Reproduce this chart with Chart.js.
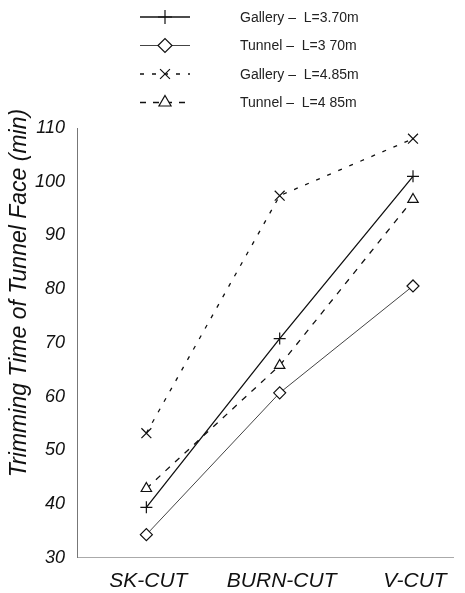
<!DOCTYPE html>
<html>
<head>
<meta charset="utf-8">
<script src="https://cdn.jsdelivr.net/npm/chart.js@4"></script>
<style>
  html, body { margin: 0; padding: 0; background: #fff; }
  #wrap { width: 465px; height: 593px; }
</style>
</head>
<body>
<div id="wrap"><canvas id="trimChart"></canvas></div>
<script>
const categories = ['SK-CUT', 'BURN-CUT', 'V-CUT'];
const gallery370 = [39.4, 70.8, 101];
const tunnel370 = [34.3, 60.7, 80.6];
const gallery485 = [53.2, 97.4, 108];
const tunnel485 = [42.9, 65.8, 96.7];
const yTicks = [30, 40, 50, 60, 70, 80, 90, 100, 110];
const yTitle = 'Trimming Time of Tunnel Face (min)';

const FONT = '"Liberation Sans", Arial, sans-serif';
const pts = vals => vals.map((v, i) => ({ x: i, y: v }));

// legend drawn as a single column above the plot
const columnLegend = {
    id: 'columnLegend',
    afterDraw(chart) {
        const ctx = chart.ctx;
        chart.data.datasets.forEach((ds, i) => {
            const y = 17 + i * 28.5;
            ctx.save();
            ctx.strokeStyle = ds.borderColor;
            ctx.lineWidth = ds.borderWidth;
            ctx.setLineDash(ds.borderDash || []);
            ctx.beginPath();
            ctx.moveTo(140, y);
            ctx.lineTo(190, y);
            ctx.stroke();
            ctx.setLineDash([]);
            ctx.lineWidth = 1.2;
            ctx.strokeStyle = '#111';
            ctx.fillStyle = '#fff';
            Chart.helpers.drawPoint(ctx, { pointStyle: ds.pointStyle, radius: 7, borderWidth: 1.2 }, 165, y);
            ctx.fillStyle = '#222';
            ctx.font = '14px ' + FONT;
            ctx.textBaseline = 'middle';
            ctx.fillText(ds.label, 240, y + 1);
            ctx.restore();
        });
    }
};

// y title sits higher than the axis middle in the original
const sideTitle = {
    id: 'sideTitle',
    afterDraw(chart) {
        const ctx = chart.ctx;
        ctx.save();
        ctx.translate(20, 293);
        ctx.rotate(-Math.PI / 2);
        ctx.fillStyle = '#111';
        ctx.font = 'italic 23px ' + FONT;
        ctx.textAlign = 'center';
        ctx.textBaseline = 'middle';
        ctx.fillText(yTitle, 0, 0);
        ctx.restore();
    }
};

new Chart(document.getElementById('trimChart'), {
    type: 'line',
    data: {
        datasets: [{
            label: 'Gallery \u2013  L=3.70m',
            data: pts(gallery370),
            borderColor: '#111',
            borderWidth: 1.3,
            pointStyle: 'cross',
            pointRadius: 6,
            pointBorderColor: '#111',
            pointBorderWidth: 1.2
        }, {
            label: 'Tunnel \u2013  L=3 70m',
            data: pts(tunnel370),
            borderColor: '#444',
            borderWidth: 1,
            pointStyle: 'rectRot',
            pointRadius: 6,
            pointBackgroundColor: '#fff',
            pointBorderColor: '#111',
            pointBorderWidth: 1.2
        }, {
            label: 'Gallery \u2013  L=4.85m',
            data: pts(gallery485),
            borderColor: '#111',
            borderWidth: 1.3,
            borderDash: [4, 8],
            pointStyle: 'crossRot',
            pointRadius: 7,
            pointBorderColor: '#111',
            pointBorderWidth: 1.2
        }, {
            label: 'Tunnel \u2013  L=4 85m',
            data: pts(tunnel485),
            borderColor: '#111',
            borderWidth: 1.3,
            borderDash: [6, 7],
            pointStyle: 'triangle',
            pointRadius: 6,
            pointBackgroundColor: '#fff',
            pointBorderColor: '#111',
            pointBorderWidth: 1.2
        }]
    },
    options: {
        responsive: true,
        maintainAspectRatio: false,
        animation: false,
        layout: { padding: { top: 128, right: 12, left: 31, bottom: -4 } },
        plugins: {
            legend: { display: false },
            tooltip: { enabled: false }
        },
        scales: {
            x: {
                type: 'linear',
                min: -0.52,
                max: 2.3,
                afterBuildTicks: axis => { axis.ticks = categories.map((c, i) => ({ value: i })); },
                ticks: {
                    callback: v => categories[v],
                    color: '#111',
                    font: { family: FONT, size: 21, style: 'italic' },
                    padding: 3,
                    labelOffset: 2,
                    maxRotation: 0
                },
                grid: { display: false },
                border: { color: '#aaa', width: 1, dash: [3, 4] }
            },
            y: {
                min: 30,
                max: 110,
                afterBuildTicks: axis => { axis.ticks = yTicks.map(v => ({ value: v })); },
                ticks: {
                    color: '#111',
                    font: { family: FONT, size: 18, style: 'italic' },
                    padding: 4
                },
                grid: { display: false },
                border: { color: '#777', width: 1, dash: [40, 3] }
            }
        }
    },
    plugins: [columnLegend, sideTitle]
});
</script>
</body>
</html>
